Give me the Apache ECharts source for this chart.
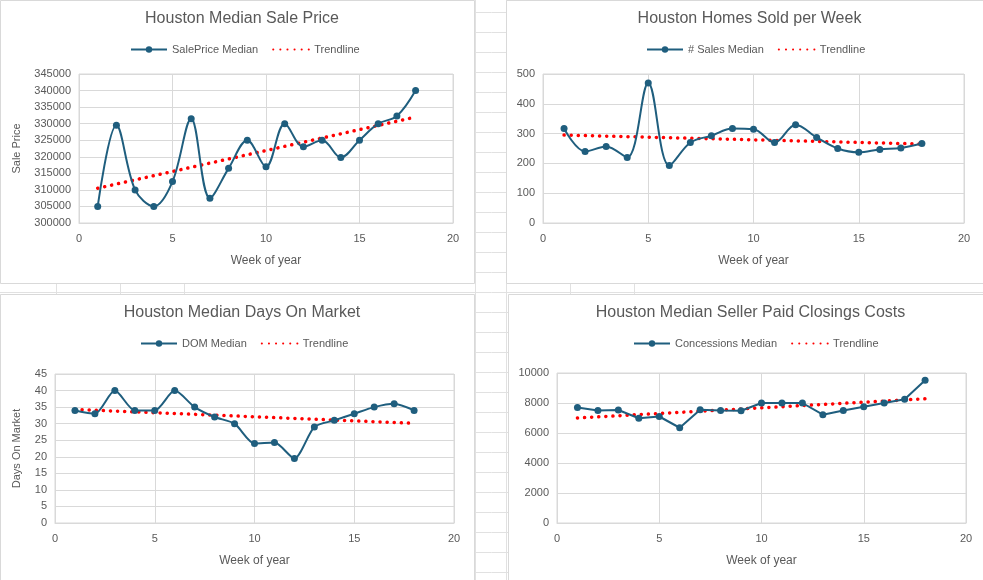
<!DOCTYPE html>
<html>
<head>
<meta charset="utf-8">
<script src="https://cdn.jsdelivr.net/npm/echarts@6/dist/echarts.min.js"></script>
<style>
html,body{margin:0;padding:0;background:#fff;}
#sheet{position:relative;width:983px;height:580px;overflow:hidden;}
#main{position:absolute;left:0;top:0;width:983px;height:580px;}
</style>
</head>
<body>
<div id="sheet">
  <canvas id="cells" width="983" height="580" style="position:absolute;left:0;top:0"></canvas>
  <div id="main"></div>
</div>
<script>
// week numbers (x values)
var weeks = [1,2,3,4,5,6,7,8,9,10,11,12,13,14,15,16,17,18];
var salePrice = [305000,329500,310000,305000,312500,331500,307500,316500,325000,317000,330000,323000,325000,319800,325000,330000,332300,340000];
var salesCount = [317,240,257,220,470,193,270,293,317,315,270,330,287,250,237,247,252,267];
var domMedian = [34,33,40,34,34,40,35,32,30,24,24.3,19.5,29,31,33,35,36,34];
var concessions = [7700,7500,7530,6980,7100,6350,7550,7500,7480,8000,8000,8000,7220,7500,7750,8000,8250,9520];
// trendline end values at week 1 and week 18
var priceTrend = [310500, 332000];
var salesTrend = [295, 265];
var domTrend = [34.3, 30.1];
var concTrend = [7000, 8280];

// background spreadsheet cells behind the charts
var ctx = document.getElementById('cells').getContext('2d');
ctx.strokeStyle = '#e1e1e1';
ctx.lineWidth = 1;
for (var y = 12.5; y < 580; y += 20) { ctx.beginPath(); ctx.moveTo(0, y); ctx.lineTo(983, y); ctx.stroke(); }
[56.5, 120.5, 184.5, 475.5, 506.5, 570.5, 634.5].forEach(function (x) { ctx.beginPath(); ctx.moveTo(x, 0); ctx.lineTo(x, 580); ctx.stroke(); });

var boxes = [
    {x: 0, y: 0, w: 474, h: 283},
    {x: 506, y: 0, w: 477, h: 283},
    {x: 0, y: 294, w: 474, h: 286},
    {x: 508, y: 294, w: 475, h: 286}
];
var grids = [
    {left: 79, top: 74, width: 374, height: 149},
    {left: 543, top: 74, width: 421, height: 149},
    {left: 55, top: 374, width: 399, height: 149},
    {left: 557, top: 373, width: 409, height: 150}
];
var titles = ['Houston Median Sale Price', 'Houston Homes Sold per Week', 'Houston Median Days On Market', 'Houston Median Seller Paid Closings Costs'];
var names = ['SalePrice Median', '# Sales Median', 'DOM Median', 'Concessions Median'];
var datas = [salePrice, salesCount, domMedian, concessions];
var trends = [priceTrend, salesTrend, domTrend, concTrend];
var yAxes = [
    {min: 300000, max: 345000, interval: 5000, name: 'Sale Price'},
    {min: 0, max: 500, interval: 100, name: ''},
    {min: 0, max: 45, interval: 5, name: 'Days On Market'},
    {min: 0, max: 10000, interval: 2000, name: ''}
];
var smooth = [0.35, 0.35, 0.25, false];
var legendLeft = [125, 641, 135, 628];

var font = 'Liberation Sans';
var txt = '#595959';
var option = {
    animation: false,
    textStyle: {fontFamily: font},
    graphic: [], title: [], legend: [], grid: [], xAxis: [], yAxis: [], series: []
};
boxes.forEach(function (b) {
    option.graphic.push({type: 'rect', shape: {x: b.x + 0.5, y: b.y + 0.5, width: b.w, height: b.h},
        style: {fill: '#fff', stroke: '#d9d9d9', lineWidth: 1}, z: -10});
});
for (var i = 0; i < 4; i++) {
    var b = boxes[i];
    option.title.push({text: titles[i], left: b.x + b.w / 2, top: b.y + 6, textAlign: 'center',
        textStyle: {fontFamily: font, fontSize: 16, fontWeight: 'normal', color: txt}});
    option.legend.push({left: legendLeft[i], top: b.y + 39, itemWidth: 36, itemHeight: 8, itemGap: 14,
        textStyle: {fontFamily: font, fontSize: 11, color: txt},
        data: [{name: names[i]}, {name: 'Trendline', itemStyle: {opacity: 0}}]});
    option.grid.push({left: grids[i].left, top: grids[i].top, width: grids[i].width, height: grids[i].height,
        show: true, borderColor: '#d9d9d9', borderWidth: 1});
    option.xAxis.push({type: 'value', gridIndex: i, min: 0, max: 20, interval: 5,
        name: 'Week of year', nameLocation: 'middle', nameGap: 32,
        nameTextStyle: {fontFamily: font, fontSize: 12, color: txt},
        axisLine: {show: true, lineStyle: {color: '#d9d9d9'}}, axisTick: {show: false},
        axisLabel: {color: txt, fontSize: 11, margin: 10},
        splitLine: {lineStyle: {color: '#d9d9d9'}}});
    option.yAxis.push({type: 'value', gridIndex: i, min: yAxes[i].min, max: yAxes[i].max, interval: yAxes[i].interval,
        name: yAxes[i].name, nameLocation: 'middle', nameGap: i === 0 ? 57 : 33, nameRotate: 90,
        nameTextStyle: {fontFamily: font, fontSize: 11, color: txt},
        axisLine: {show: false}, axisTick: {show: false},
        axisLabel: {color: txt, fontSize: 11, margin: 8, formatter: function (v) { return String(v); }},
        splitLine: {lineStyle: {color: '#d9d9d9'}}});
    option.series.push({
        name: names[i], type: 'line', xAxisIndex: i, yAxisIndex: i, smooth: smooth[i],
        data: weeks.map(function (w, k) { return [w, datas[i][k]]; }),
        symbol: 'circle', symbolSize: 7, color: '#1f5e7e',
        lineStyle: {width: 2, color: '#1f5e7e'}, itemStyle: {color: '#1f5e7e'}, z: 3
    });
    option.series.push({
        name: 'Trendline', type: 'line', xAxisIndex: i, yAxisIndex: i, symbol: 'none', color: '#ff0000',
        data: [[weeks[0], trends[i][0]], [weeks[weeks.length - 1], trends[i][1]]],
        lineStyle: {width: 3.5, color: '#ff0000', type: [0.1, 7], cap: 'round'}, z: 2
    });
}
var chart = echarts.init(document.getElementById('main'));
chart.setOption(option);
</script>
</body>
</html>
